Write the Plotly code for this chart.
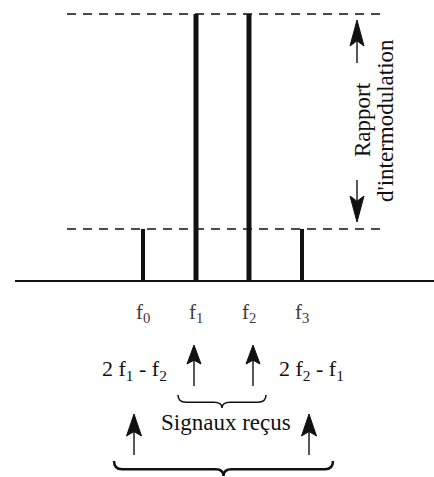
import plotly.graph_objects as go

# spectre : produits d'intermodulation (f0, f3) et signaux reçus (f1, f2)
freq_pos = [0, 1, 2, 3]
freq_labels = ["f<sub>0</sub>", "f<sub>1</sub>", "f<sub>2</sub>", "f<sub>3</sub>"]
amplitudes = [0.195, 1.0, 1.0, 0.195]
product_labels = ["2 f<sub>1</sub> - f<sub>2</sub>", "2 f<sub>2</sub> - f<sub>1</sub>"]
ratio_labels = ["Rapport", "d'intermodulation"]
group_label = "Signaux reçus"

W, H = 434, 477
X0, DX = 143, 53      # pixel de f0, pas entre fréquences
Y0, DY = 281, 267     # pixel de la ligne de base, pixels par unité d'amplitude

SERIF = "Liberation Serif, Times New Roman, serif"
INK = "#111111"


def px(x):
    return x / W


def py(y):
    return 1 - y / H


# pixel -> coordonnées des axes
def dx(x):
    return (x - X0) / DX


def dy(y):
    return (Y0 - y) / DY


def to_path(segments):
    return " ".join(
        cmd + " " + " ".join(f"{px(a):.5f},{py(b):.5f}" for a, b in coords)
        for cmd, coords in segments
    )


def brace(x0, x1, ytop, h):
    """accolade ouverte vers le haut, pointe vers le bas"""
    mid = (x0 + x1) / 2
    r = 8
    yh = ytop + h * 0.55
    return to_path([
        ("M", [(x0, ytop)]),
        ("Q", [(x0, yh), (x0 + r, yh)]),
        ("L", [(mid - r, yh)]),
        ("Q", [(mid, yh), (mid, ytop + h)]),
        ("Q", [(mid, yh), (mid + r, yh)]),
        ("L", [(x1 - r, yh)]),
        ("Q", [(x1, yh), (x1, ytop)]),
    ])


fig = go.Figure(
    go.Bar(
        x=freq_pos,
        y=amplitudes,
        width=[0.075, 0.094, 0.094, 0.075],
        marker_color=INK,
        marker_line_width=0,
        hoverinfo="skip",
    )
)

# flèches : (x pixel, pointe, queue, longueur de pointe, demi-largeur)
arrows = [
    (194, 345, 386, 19, 7), (253, 345, 386, 19, 7),
    (134, 414, 455, 22, 7.5), (309, 414, 455, 22, 7.5),
    (357, 20, 63, 26, 7), (357, 222, 180, 26, 7),
]
shaft_x, shaft_y, head_x, head_y = [], [], [], []
for x, tip, tail, head, half in arrows:
    d = 1 if tail > tip else -1
    shaft_x += [dx(x), dx(x), None]
    shaft_y += [dy(tip + d * head * 0.6), dy(tail), None]
    head_x += [dx(x), dx(x - half), dx(x), dx(x + half), dx(x), None]
    head_y += [dy(tip), dy(tip + d * head), dy(tip + d * head * 0.8), dy(tip + d * head),
               dy(tip), None]

fig.add_trace(go.Scatter(x=shaft_x, y=shaft_y, mode="lines", line=dict(color=INK, width=1.4),
                         hoverinfo="skip", cliponaxis=False))
fig.add_trace(go.Scatter(x=head_x, y=head_y, mode="lines", fill="toself", fillcolor=INK,
                         line=dict(color=INK, width=1), hoverinfo="skip", cliponaxis=False))

shapes = [
    # ligne de base
    dict(type="line", xref="paper", yref="y", x0=px(15), x1=px(434), y0=0, y1=0,
         line=dict(color=INK, width=2)),
]
# niveaux en pointillés (signal et produit d'intermodulation)
for level in (max(amplitudes), min(amplitudes)):
    shapes.append(
        dict(type="line", xref="paper", yref="y", x0=px(67), x1=px(385), y0=level, y1=level,
             line=dict(color=INK, width=1.5, dash="9px,7px"))
    )
shapes.append(dict(type="path", xref="paper", yref="paper", path=brace(178, 266, 395, 13),
                   line=dict(color=INK, width=1.5)))
shapes.append(dict(type="path", xref="paper", yref="paper", path=brace(114, 333, 461, 15),
                   line=dict(color=INK, width=2.5)))

annotations = []
for f, lab in zip(freq_pos, freq_labels):
    annotations.append(dict(x=f, y=py(313), xref="x", yref="paper", text=lab, showarrow=False,
                            xanchor="center", yanchor="middle",
                            font=dict(family=SERIF, size=21, color="#3a3a3a")))

for xc, lab in zip([134, 311], product_labels):
    annotations.append(dict(x=px(xc), y=py(370), xref="paper", yref="paper", text=lab,
                            showarrow=False, xanchor="center", yanchor="middle",
                            font=dict(family=SERIF, size=22, color=INK)))

annotations.append(dict(x=px(226), y=py(422), xref="paper", yref="paper", text=group_label,
                        showarrow=False, xanchor="center", yanchor="middle",
                        font=dict(family=SERIF, size=23, color=INK)))

for xc, yc, lab in zip([363, 386], [120, 121], ratio_labels):
    annotations.append(dict(x=px(xc), y=py(yc), xref="paper", yref="paper", text=lab,
                            textangle=-90, showarrow=False, xanchor="center", yanchor="middle",
                            font=dict(family=SERIF, size=23, color=INK)))

fig.update_layout(
    width=W,
    height=H,
    margin=dict(l=0, r=0, t=0, b=0),
    paper_bgcolor="white",
    plot_bgcolor="white",
    showlegend=False,
    shapes=shapes,
    annotations=annotations,
)
fig.update_xaxes(range=[-X0 / DX, (W - X0) / DX], visible=False, fixedrange=True)
fig.update_yaxes(range=[(Y0 - H) / DY, Y0 / DY], visible=False, fixedrange=True)

# la page par défaut garde la marge de 8px du body
fig.write_html("out.html", config={"displayModeBar": False},
               post_script="document.body.style.margin='0';")
